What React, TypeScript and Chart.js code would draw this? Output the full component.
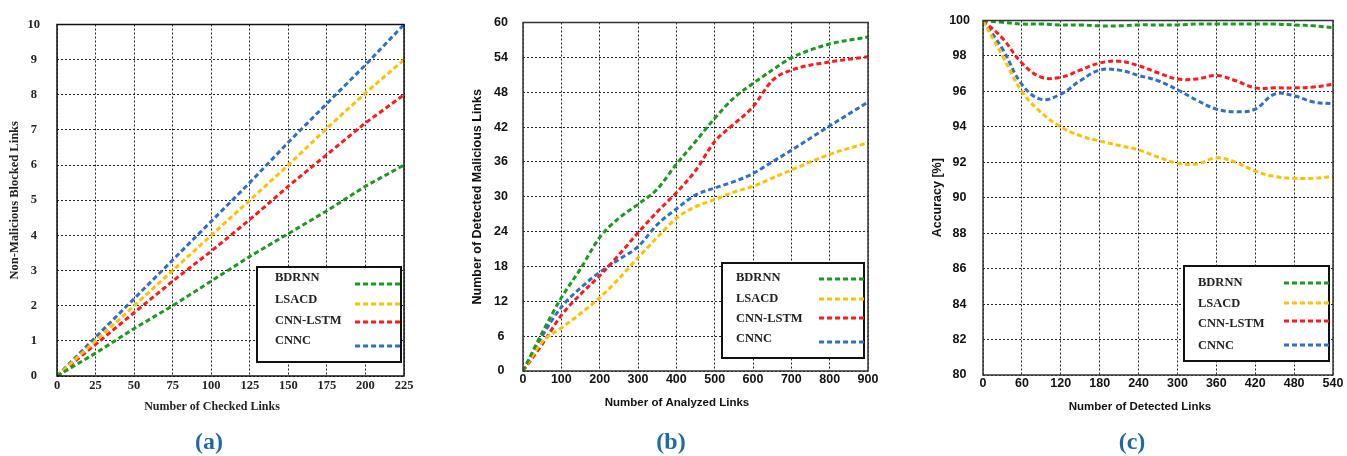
import React, { useEffect, useRef } from 'react';
import { Chart, registerables } from 'chart.js';

Chart.register(...registerables);

// ---------- Data ----------
const SERIES = ['BDRNN', 'LSACD', 'CNN-LSTM', 'CNNC'];
const COLORS = ['#1a9a1f', '#ffc000', '#ff1a1a', '#2f6fc6'];

// (a) Non-Malicious Blocked Links vs Number of Checked Links
const checkedLinks = [0, 25, 50, 75, 100, 125, 150, 175, 200, 225];
const aBDRNN = [0, 0.65, 1.35, 2.0, 2.7, 3.4, 4.05, 4.7, 5.4, 6.0];
const aLSACD = [0, 1.0, 2.0, 3.0, 4.0, 5.0, 6.0, 7.05, 8.05, 9.0];
const aCNNLSTM = [0, 0.9, 1.8, 2.7, 3.55, 4.45, 5.4, 6.3, 7.2, 8.0];
const aCNNC = [0, 1.1, 2.2, 3.3, 4.4, 5.5, 6.65, 7.75, 8.85, 10.0];

// (b) Number of Detected Malicious Links vs Number of Analyzed Links
const analyzedLinks = [0, 50, 100, 150, 200, 250, 300, 350, 400, 450, 500, 550, 600, 650, 700, 800, 900];
const bBDRNN = [0, 6.6, 12.6, 17.6, 23, 26.3, 28.7, 31.3, 35.6, 39.5, 43.5, 47, 49.5, 51.8, 53.9, 56.3, 57.5];
const bLSACD = [0, 5, 7.4, 9.9, 12.6, 15.9, 19.5, 23, 26.3, 28.3, 29.5, 30.8, 31.8, 33.2, 34.6, 37.3, 39.3];
const bCNNLSTM = [0, 4.6, 9.6, 13.2, 16.4, 20, 23.8, 27.4, 30.7, 34.5, 39.5, 42.5, 45.5, 50, 51.8, 53.2, 54.1];
const bCNNC = [0, 6, 11, 14.3, 17, 19.2, 21.4, 25.2, 27.9, 30.3, 31.5, 32.6, 34, 36, 38, 42.2, 46.3];

// (c) Accuracy [%] vs Number of Detected Links
const detectedLinks = [0, 30, 60, 90, 120, 150, 180, 210, 240, 270, 300, 330, 360, 390, 420, 450, 480, 510, 540];
const cBDRNN = [100, 99.9, 99.8, 99.8, 99.75, 99.75, 99.7, 99.7, 99.75, 99.75, 99.75, 99.8, 99.8, 99.8, 99.8, 99.8, 99.75, 99.7, 99.6];
const cLSACD = [100, 98, 96, 94.8, 94.0, 93.5, 93.2, 92.95, 92.7, 92.3, 91.95, 91.9, 92.25, 92.0, 91.5, 91.2, 91.1, 91.1, 91.2];
const cCNNLSTM = [100, 99.0, 97.6, 96.8, 96.8, 97.2, 97.6, 97.7, 97.45, 97.05, 96.7, 96.7, 96.9, 96.6, 96.2, 96.2, 96.2, 96.25, 96.4];
const cCNNC = [100, 98.4, 96.4, 95.55, 95.85, 96.6, 97.2, 97.2, 96.9, 96.6, 96.1, 95.5, 95.0, 94.85, 95.0, 95.85, 95.75, 95.4, 95.3];

// ---------- Styling ----------
const SERIF = "'Liberation Serif', 'Times New Roman', serif";
const SANS = "'Liberation Sans', Arial, sans-serif";

const decorPlugin = {
  id: 'decor',
  afterDraw(chart: any, _args: any, opts: any) {
    const ctx = chart.ctx as CanvasRenderingContext2D;
    const ca = chart.chartArea;
    ctx.save();
    // plot frame
    ctx.setLineDash([]);
    ctx.strokeStyle = opts.frameColor;
    ctx.lineWidth = opts.frameWidth;
    ctx.strokeRect(ca.left, ca.top, ca.right - ca.left, ca.bottom - ca.top);
    // x title
    ctx.fillStyle = opts.textColor;
    ctx.font = opts.xTitleFont;
    ctx.textAlign = 'center';
    ctx.textBaseline = 'middle';
    ctx.fillText(opts.xTitle, opts.xTitleX, opts.xTitleY);
    // legend
    const L = opts.legend;
    const [x1, y1, x2, y2] = L.box;
    ctx.fillStyle = '#ffffff';
    ctx.fillRect(x1, y1, x2 - x1, y2 - y1);
    ctx.strokeStyle = '#111111';
    ctx.lineWidth = 2;
    ctx.strokeRect(x1, y1, x2 - x1, y2 - y1);
    ctx.font = L.font;
    ctx.textAlign = 'left';
    ctx.textBaseline = 'middle';
    chart.data.datasets.forEach((ds: any, i: number) => {
      ctx.fillStyle = '#222222';
      ctx.setLineDash([]);
      ctx.fillText(ds.label, L.textX, L.textY[i]);
      ctx.strokeStyle = ds.borderColor;
      ctx.lineWidth = 3;
      ctx.setLineDash([5, 3]);
      ctx.beginPath();
      ctx.moveTo(L.lineX[0], L.lineY[i]);
      ctx.lineTo(L.lineX[1], L.lineY[i]);
      ctx.stroke();
    });
    ctx.restore();
  },
};

type PanelSpec = {
  left: number;
  width: number;
  xs: number[];
  ys: number[][];
  xMin: number; xMax: number; xStep: number;
  yMin: number; yMax: number; yStep: number;
  tension: number;
  monotone: boolean;
  padTop: number; padRight: number;
  yAxisWidth: number; xAxisHeight: number;
  yTitle: string; yTitleFont: any; yTitlePad: number;
  tickFont: any; yTickPad: number; xTickPad: number;
  textColor: string;
  frameColor: string;
  xTitle: string; xTitleFont: string; xTitleX: number; xTitleY: number;
  legend: any;
};

function Panel({ spec }: { spec: PanelSpec }) {
  const ref = useRef<HTMLCanvasElement | null>(null);
  useEffect(() => {
    if (!ref.current) return;
    const s = spec;
    const chart = new Chart(ref.current, {
      type: 'line',
      data: {
        datasets: SERIES.map((name, i) => ({
          label: name,
          data: s.xs.map((x, j) => ({ x, y: s.ys[i][j] })),
          borderColor: COLORS[i],
          backgroundColor: COLORS[i],
          borderWidth: 3,
          borderDash: [5, 3],
          borderCapStyle: 'butt',
          pointRadius: 0,
          fill: false,
          tension: s.tension,
          cubicInterpolationMode: s.monotone ? 'monotone' : 'default',
        })),
      },
      options: {
        animation: false,
        responsive: false,
        devicePixelRatio: 1,
        layout: { padding: { top: s.padTop, right: s.padRight, left: 0, bottom: 0 } },
        plugins: {
          legend: { display: false },
          tooltip: { enabled: false },
          decor: {
            frameColor: s.frameColor,
            frameWidth: 1.5,
            textColor: s.textColor,
            xTitle: s.xTitle,
            xTitleFont: s.xTitleFont,
            xTitleX: s.xTitleX,
            xTitleY: s.xTitleY,
            legend: s.legend,
          },
        } as any,
        scales: {
          x: {
            type: 'linear',
            min: s.xMin,
            max: s.xMax,
            afterFit: (axis: any) => { axis.height = s.xAxisHeight; },
            ticks: { stepSize: s.xStep, font: s.tickFont, color: s.textColor, padding: s.xTickPad, maxRotation: 0, autoSkip: false },
            grid: { color: '#222', lineWidth: 1, drawTicks: false },
            border: { display: false, dash: [2, 2] },
          },
          y: {
            type: 'linear',
            min: s.yMin,
            max: s.yMax,
            afterFit: (axis: any) => { axis.width = s.yAxisWidth; },
            ticks: { stepSize: s.yStep, font: s.tickFont, color: s.textColor, padding: s.yTickPad, crossAlign: 'center', autoSkip: false },
            grid: { color: '#222', lineWidth: 1, drawTicks: false },
            border: { display: false, dash: [2, 2] },
            title: {
              display: true,
              text: s.yTitle,
              font: s.yTitleFont,
              color: s.textColor,
              padding: { top: s.yTitlePad, bottom: 0 },
            },
          },
        },
      } as any,
      plugins: [decorPlugin as any],
    });
    return () => chart.destroy();
  }, [spec]);
  return (
    <canvas
      ref={ref}
      width={spec.width}
      height={456}
      style={{ position: 'absolute', left: spec.left, top: 0, width: spec.width, height: 456 }}
    />
  );
}

const legendFont = `bold 12.5px ${SERIF}`;

const panelA: PanelSpec = {
  left: 0, width: 430,
  xs: checkedLinks, ys: [aBDRNN, aLSACD, aCNNLSTM, aCNNC],
  xMin: 0, xMax: 225, xStep: 25, yMin: 0, yMax: 10, yStep: 1,
  tension: 0, monotone: false,
  padTop: 11, padRight: 26, yAxisWidth: 57, xAxisHeight: 80,
  yTitle: 'Non-Malicious Blocked Links', yTitleFont: { family: SERIF, size: 12.5, weight: 'bold' }, yTitlePad: 7.5,
  tickFont: { family: SERIF, size: 12.5, weight: 'bold' }, yTickPad: 17, xTickPad: 2,
  textColor: '#222222', frameColor: '#111111',
  xTitle: 'Number of Checked Links', xTitleFont: `bold 12px ${SERIF}`, xTitleX: 212, xTitleY: 407,
  legend: { box: [257, 267, 401, 362], font: legendFont, textX: 275, textY: [278, 300, 321, 341], lineX: [355, 400], lineY: [284, 304, 322, 346] },
};

const panelB: PanelSpec = {
  left: 450, width: 440,
  xs: analyzedLinks, ys: [bBDRNN, bLSACD, bCNNLSTM, bCNNC],
  xMin: 0, xMax: 900, xStep: 100, yMin: 0, yMax: 60, yStep: 6,
  tension: 0.4, monotone: true,
  padTop: 9, padRight: 22, yAxisWidth: 73, xAxisHeight: 85,
  yTitle: 'Number of Detected Malicious Links', yTitleFont: { family: SANS, size: 12.5, weight: 'bold' }, yTitlePad: 20,
  tickFont: { family: SANS, size: 12.5, weight: 'bold' }, yTickPad: 15, xTickPad: 1,
  textColor: '#111111', frameColor: '#333333',
  xTitle: 'Number of Analyzed Links', xTitleFont: `bold 11.5px ${SANS}`, xTitleX: 227, xTitleY: 403,
  legend: { box: [272, 263, 414, 358], font: legendFont, textX: 286, textY: [278, 299, 319, 339], lineX: [369, 414], lineY: [279, 299, 318, 342] },
};

const panelC: PanelSpec = {
  left: 920, width: 427,
  xs: detectedLinks, ys: [cBDRNN, cLSACD, cCNNLSTM, cCNNC],
  xMin: 0, xMax: 540, xStep: 60, yMin: 80, yMax: 100, yStep: 2,
  tension: 0.4, monotone: false,
  padTop: 11, padRight: 14, yAxisWidth: 63, xAxisHeight: 81,
  yTitle: 'Accuracy [%]', yTitleFont: { family: SANS, size: 12.5, weight: 'bold' }, yTitlePad: 10.5,
  tickFont: { family: SANS, size: 12.5, weight: 'bold' }, yTickPad: 13, xTickPad: 1,
  textColor: '#111111', frameColor: '#333333',
  xTitle: 'Number of Detected Links', xTitleFont: `bold 11.5px ${SANS}`, xTitleX: 220, xTitleY: 407,
  legend: { box: [264, 266, 409, 361], font: legendFont, textX: 278, textY: [283, 304, 324, 346], lineX: [364, 409], lineY: [283, 303, 321, 345] },
};

const captions = [
  { text: '(a)', cx: 209 },
  { text: '(b)', cx: 671 },
  { text: '(c)', cx: 1132 },
];

export default function App() {
  return (
    <div style={{ position: 'fixed', left: 0, top: 0, width: 1347, height: 456, background: '#ffffff', overflow: 'hidden' }}>
      <Panel spec={panelA} />
      <Panel spec={panelB} />
      <Panel spec={panelC} />
      {captions.map((c) => (
        <div
          key={c.text}
          style={{
            position: 'absolute',
            left: c.cx - 40,
            width: 80,
            top: 426,
            textAlign: 'center',
            font: `bold 24px ${SERIF}`,
            lineHeight: '30px',
            color: '#1d6aa6',
          }}
        >
          {c.text}
        </div>
      ))}
    </div>
  );
}
